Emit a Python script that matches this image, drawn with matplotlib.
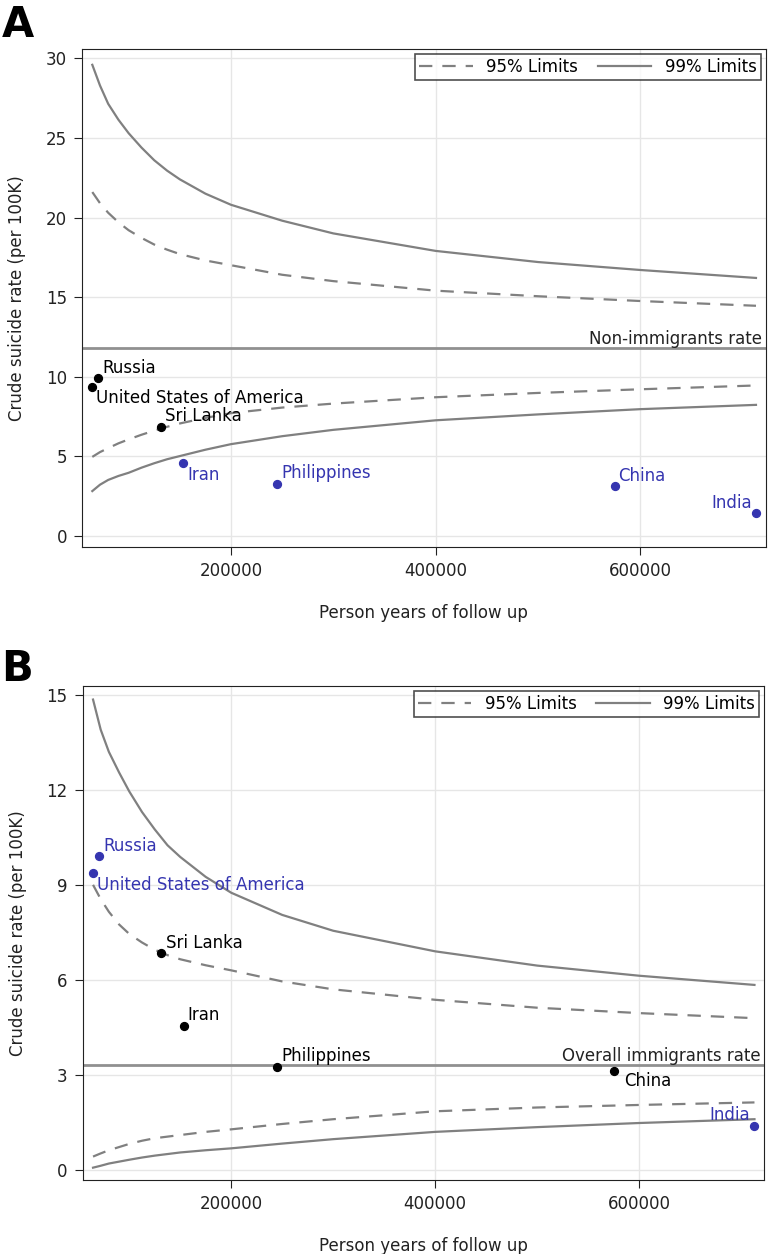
import numpy as np
import matplotlib
matplotlib.use("Agg")
import matplotlib.pyplot as plt

# countries (same person-years in both panels)
paises = ["Russia", "United States of America", "Sri Lanka", "Iran", "Philippines", "China", "India"]
anios_persona = [70400, 64500, 131600, 153300, 245000, 575600, 713000]
tasas = [9.9, 9.37, 6.84, 4.55, 3.26, 3.12, 1.4]

# funnel limits
x_limites = [64500, 72000, 80000, 90000, 100000, 112500, 125000, 137500, 150000, 175000,
             200000, 250000, 300000, 400000, 500000, 600000, 713000]

# panel A: non-immigrants rate
tasa_ref_a = 11.8
sup99_a = [29.6, 28.3, 27.15, 26.15, 25.3, 24.4, 23.6, 22.95, 22.4, 21.5,
           20.8, 19.8, 19.0, 17.9, 17.2, 16.7, 16.2]
sup95_a = [21.6, 20.9, 20.3, 19.7, 19.2, 18.72, 18.3, 17.98, 17.7, 17.3,
           17.0, 16.4, 16.0, 15.4, 15.05, 14.75, 14.45]
inf95_a = [4.95, 5.25, 5.5, 5.8, 6.05, 6.34, 6.6, 6.84, 7.05, 7.4,
           7.7, 8.05, 8.3, 8.7, 8.97, 9.2, 9.44]
inf99_a = [2.8, 3.2, 3.5, 3.75, 3.95, 4.27, 4.55, 4.8, 5.0, 5.4,
           5.75, 6.25, 6.65, 7.25, 7.62, 7.95, 8.22]

# panel B: overall immigrants rate
tasa_ref_b = 3.32
sup99_b = [14.85, 13.9, 13.2, 12.55, 11.95, 11.3, 10.75, 10.25, 9.88, 9.25,
           8.75, 8.05, 7.55, 6.9, 6.45, 6.13, 5.84]
sup95_b = [9.0, 8.55, 8.15, 7.75, 7.45, 7.18, 6.95, 6.78, 6.65, 6.46,
           6.3, 5.95, 5.7, 5.37, 5.12, 4.95, 4.79]
inf95_b = [0.42, 0.52, 0.62, 0.72, 0.82, 0.92, 1.0, 1.05, 1.1, 1.2,
           1.28, 1.45, 1.6, 1.85, 1.97, 2.05, 2.13]
inf99_b = [0.07, 0.13, 0.2, 0.26, 0.32, 0.39, 0.45, 0.5, 0.55, 0.62,
           0.68, 0.83, 0.97, 1.2, 1.35, 1.48, 1.6]

# which points fall outside the 95% limits (drawn blue)
fuera_a = [False, False, False, True, True, True, True]
fuera_b = [True, True, False, False, False, False, True]

# label placement: (dx, dy) in points, ha, va
pos_a = [(3, 1, "left", "bottom"), (3, -2, "left", "top"), (3, 1, "left", "bottom"),
         (3, -2, "left", "top"), (3, 1, "left", "bottom"), (2, 1, "left", "bottom"),
         (-3, 1, "right", "bottom")]
pos_b = [(3, 1, "left", "bottom"), (3, -2, "left", "top"), (3, 1, "left", "bottom"),
         (3, 1, "left", "bottom"), (3, 1, "left", "bottom"), (7, -1, "left", "top"),
         (-3, 1, "right", "bottom")]

GRIS = "#808080"
AZUL = "#3535B0"
TAM = 12

plt.rcParams["font.family"] = ["DejaVu Sans"]


def panel(ax, tasa_ref, sup99, sup95, inf95, inf99, fuera, pos, texto_ref, ylim, yticks):
    ax.plot(x_limites, sup95, "--", color=GRIS, lw=1.6, dashes=(6, 4.5), label="95% Limits")
    ax.plot(x_limites, sup99, "-", color=GRIS, lw=1.6, label="99% Limits")
    ax.plot(x_limites, inf95, "--", color=GRIS, lw=1.6, dashes=(6, 4.5))
    ax.plot(x_limites, inf99, "-", color=GRIS, lw=1.6)
    ax.axhline(tasa_ref, color="#909090", lw=2)
    ax.text(0.995, tasa_ref, texto_ref, transform=ax.get_yaxis_transform(),
            ha="right", va="bottom", fontsize=TAM, color="#222222")
    for i, nombre in enumerate(paises):
        c = AZUL if fuera[i] else "black"
        ax.scatter(anios_persona[i], tasas[i], s=32, color=c, zorder=5)
        dx, dy, ha, va = pos[i]
        ax.annotate(nombre, (anios_persona[i], tasas[i]), xytext=(dx, dy),
                    textcoords="offset points", ha=ha, va=va, fontsize=TAM, color=c)
    ax.set_xlim(54600, 722500)
    ax.set_ylim(ylim)
    ax.set_xticks([200000, 400000, 600000])
    ax.set_yticks(yticks)
    ax.grid(True, color="#e6e6e6", lw=1)
    ax.set_axisbelow(True)
    ax.tick_params(labelsize=TAM, colors="#222222", length=6, pad=5)
    for s in ax.spines.values():
        s.set_color("#222222")
    ax.set_xlabel("Person years of follow up", fontsize=TAM, color="#222222", labelpad=17)
    ax.set_ylabel("Crude suicide rate (per 100K)", fontsize=TAM, color="#222222", labelpad=14)
    ley = ax.legend(loc="upper right", ncol=2, fontsize=TAM, handlelength=3.2,
                    fancybox=False, edgecolor="#222222", borderaxespad=0.3,
                    columnspacing=1.2, borderpad=0.25)
    ley.get_frame().set_linewidth(1.2)


fig = plt.figure(figsize=(7.68, 12.54), dpi=100)
ax1 = fig.add_axes([0.107, 0.564, 0.890, 0.397])
ax2 = fig.add_axes([0.108, 0.059, 0.887, 0.394])

panel(ax1, tasa_ref_a, sup99_a, sup95_a, inf95_a, inf99_a, fuera_a, pos_a,
      "Non-immigrants rate", (-0.7, 30.6), [0, 5, 10, 15, 20, 25, 30])
panel(ax2, tasa_ref_b, sup99_b, sup95_b, inf95_b, inf99_b, fuera_b, pos_b,
      "Overall immigrants rate", (-0.32, 15.28), [0, 3, 6, 9, 12, 15])

fig.text(0.002, 0.997, "A", fontsize=30, fontweight="bold", va="top", ha="left")
fig.text(0.002, 0.483, "B", fontsize=30, fontweight="bold", va="top", ha="left")

plt.savefig("out.png", dpi=100)
